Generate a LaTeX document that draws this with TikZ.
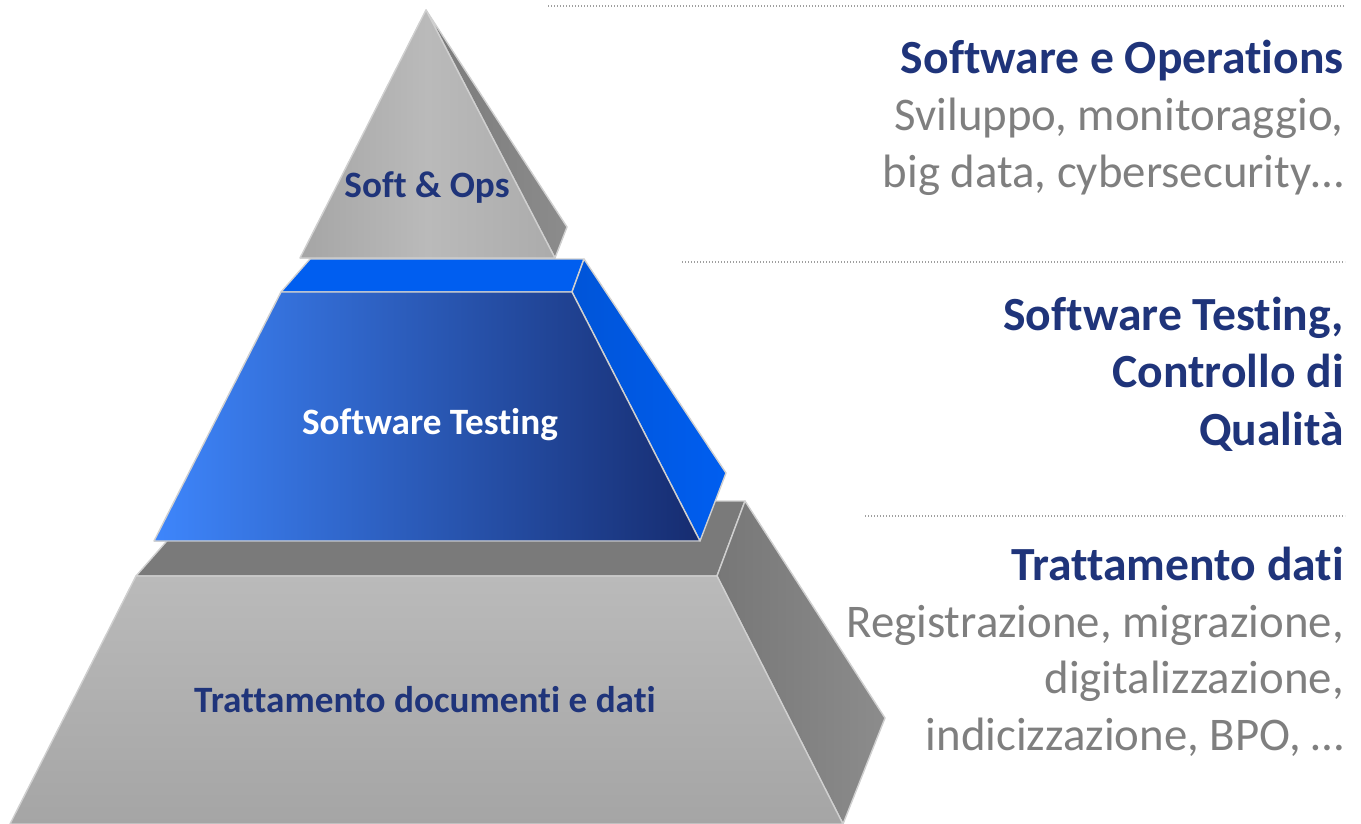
\documentclass[tikz,border=0pt]{standalone}
\usepackage{fontspec}
\setmainfont{Carlito}[Ligatures=NoCommon]
\definecolor{navy}{RGB}{31,52,122}
\definecolor{txtgray}{RGB}{127,127,127}
\definecolor{rimgray}{RGB}{208,208,208}
\definecolor{stonelt}{RGB}{186,186,186}
\definecolor{stonemd}{RGB}{165,165,165}
\definecolor{stonedk}{RGB}{122,122,122}
\definecolor{stoneside}{RGB}{140,140,140}
\definecolor{bluelt}{RGB}{62,134,252}
\definecolor{bluedk}{RGB}{22,44,112}
\definecolor{bluecap}{RGB}{0,94,240}

\begin{document}
\begin{tikzpicture}
  [x=1pt,y=-1pt,
   face/.style={draw=rimgray,line width=1.4pt,line join=round},
   sep/.style={draw=gray!75,line width=1.3pt,dash pattern=on 1.3pt off 1.7pt},
   head/.style={anchor=base east,inner sep=0,text=navy,font=\fontsize{47.6}{57}\selectfont\bfseries},
   desc/.style={anchor=base east,inner sep=0,text=txtgray,font=\fontsize{46.8}{57}\selectfont},
   lvl/.style={anchor=base,inner sep=0,font=\fontsize{37.2}{40}\selectfont\bfseries}]
  \useasboundingbox (0,0) rectangle (1361,824);

  % bottom layer
  \fill[face,fill=stonedk] (136,576) -- (202,501) -- (745,501) -- (717,576) -- cycle;
  \fill[face,left color=stoneside!85!black,right color=stoneside] (717,576) -- (745,501) -- (885,718) -- (843,824) -- cycle;
  \fill[face,top color=stonelt,bottom color=stonemd] (136,576) -- (717,576) -- (843,824) -- (10,824) -- cycle;

  % middle layer
  \fill[face,fill=bluecap] (281,292) -- (310,259) -- (584,259) -- (572,292) -- cycle;
  \fill[face,left color=bluecap!90!black,right color=bluecap] (572,292) -- (584,259) -- (726,473) -- (700,541) -- cycle;
  \fill[face,left color=bluelt,right color=bluedk] (281,292) -- (572,292) -- (700,541) -- (154,541) -- cycle;

  % top layer
  \fill[face,left color=stonedk,right color=stoneside] (426,10) -- (567,227) -- (555,258) -- cycle;
  \fill[face,left color=stonemd,right color=stonemd!70!stonelt,middle color=stonelt] (426,10) -- (555,258) -- (300,258) -- cycle;

  \node[lvl,text=navy]  (ops)  at (427,197) {Soft \& Ops};
  \node[lvl,text=white] (test) at (430,434) {Software Testing};
  \node[lvl,text=navy]  (docs) at (425,712) {Trattamento documenti e dati};

  % separators
  \coordinate (s1a) at (548,6);   \coordinate (s1b) at (1345,6);
  \coordinate (s2a) at (682,262); \coordinate (s2b) at (1345,262);
  \coordinate (s3a) at (865,516); \coordinate (s3b) at (1345,516);
  \foreach \from/\to in {s1a/s1b,s2a/s2b,s3a/s3b}
    \draw[sep] (\from) -- (\to);

  \node[head] (h1)  at (1344,74)  {Software e Operations};
  \node[desc] (d1a) at (1344,131) {Sviluppo, monitoraggio,};
  \node[desc] (d1b) at (1344,188) {big data, cybersecurity…};

  \node[head] (h2a) at (1344,330) {Software Testing,};
  \node[head] (h2b) at (1344,387) {Controllo di};
  \node[head] (h2c) at (1344,445) {Qualità};

  \node[head] (h3)  at (1344,580) {Trattamento dati};
  \node[desc] (d3a) at (1344,637) {Registrazione, migrazione,};
  \node[desc] (d3b) at (1344,693) {digitalizzazione,};
  \node[desc] (d3c) at (1344,750) {indicizzazione, BPO, …};
\end{tikzpicture}
\end{document}
